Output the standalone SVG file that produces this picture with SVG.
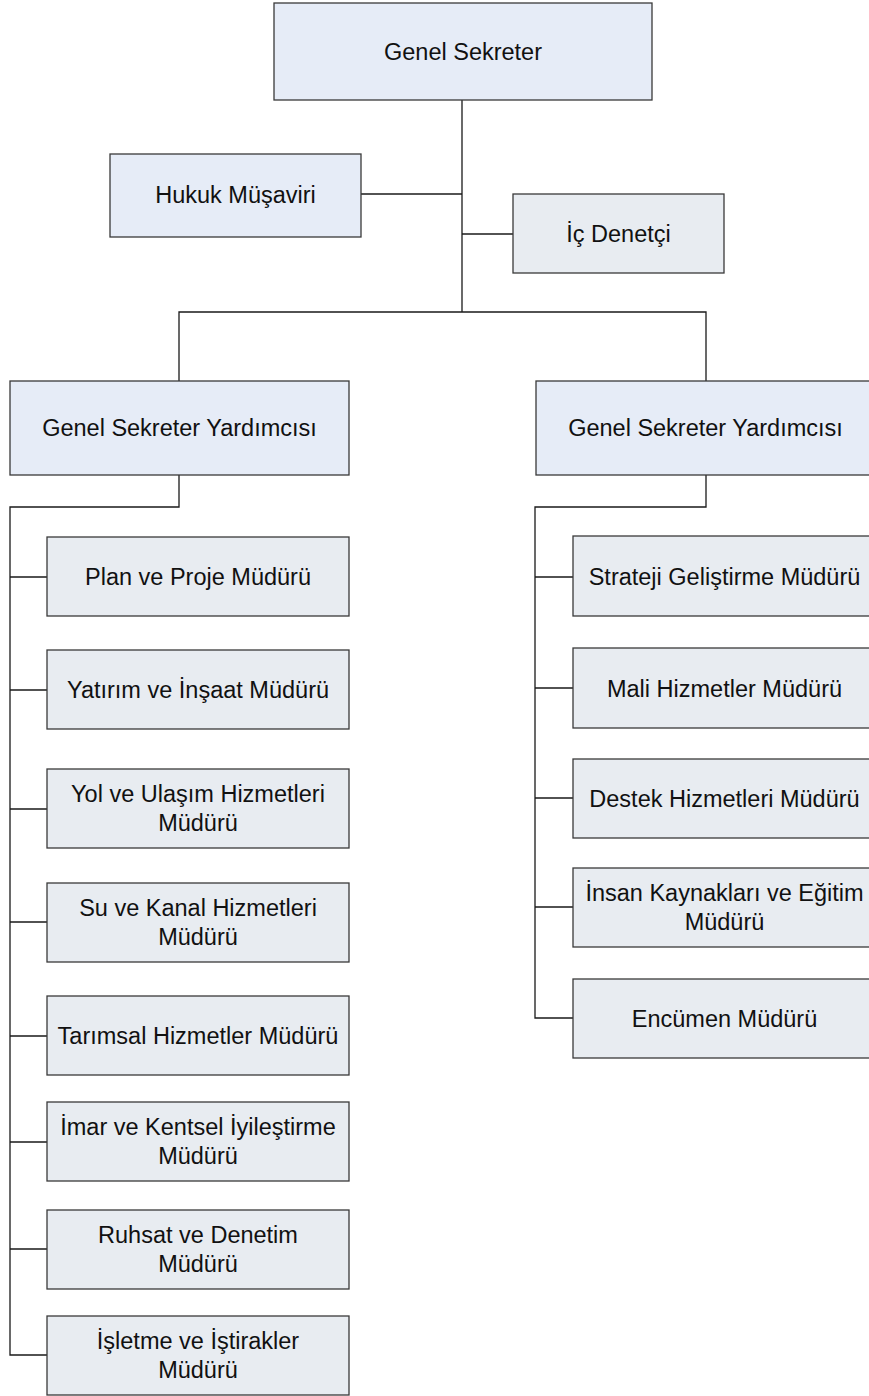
<svg xmlns="http://www.w3.org/2000/svg" width="869" height="1396" viewBox="0 0 869 1396">
<style>
  .bx { stroke: #3a3a3a; stroke-width: 1.3; }
  .b1 { fill: #E6ECF7; }
  .b2 { fill: #E8ECF1; }
  .t { font-family: "Liberation Sans", Arial, sans-serif; font-size: 23.5px; fill: #111; text-anchor: middle; }
  .c { fill: none; stroke: #1a1a1a; stroke-width: 1.3; }
</style>
<rect width="869" height="1396" fill="#ffffff"/>
<g id="connectors">
  <path class="c" d="M462 100 V312"/>
  <path class="c" d="M361 194 H462"/>
  <path class="c" d="M462 234 H513"/>
  <path class="c" d="M179 381 V312 H706 V381"/>
  <path class="c" d="M179 475 V507 H10 V1355 H47"/>
  <path class="c" d="M10 577 H47 M10 690 H47 M10 809 H47 M10 922 H47 M10 1036 H47 M10 1142 H47 M10 1249 H47"/>
  <path class="c" d="M706 475 V507 H535 V1018 H573"/>
  <path class="c" d="M535 577 H573 M535 688 H573 M535 798 H573 M535 907 H573"/>
</g>
<g id="genel-sekreter">
  <rect class="bx b1" x="274" y="3" width="378" height="97"/>
  <text class="t" x="463" y="60">Genel Sekreter</text>
</g>
<g id="hukuk">
  <rect class="bx b1" x="110" y="154" width="251" height="83"/>
  <text class="t" x="235.5" y="203">Hukuk Müşaviri</text>
</g>
<g id="ic-denetci">
  <rect class="bx b2" x="513" y="194" width="211" height="79"/>
  <text class="t" x="618.5" y="242">İç Denetçi</text>
</g>
<g id="gsy-left">
  <rect class="bx b1" x="10" y="381" width="339" height="94"/>
  <text class="t" x="179.5" y="436">Genel Sekreter Yardımcısı</text>
</g>
<g id="gsy-right">
  <rect class="bx b1" x="536" y="381" width="339" height="94"/>
  <text class="t" x="705.5" y="436">Genel Sekreter Yardımcısı</text>
</g>
<g id="plan">
  <rect class="bx b2" x="47" y="537" width="302" height="79"/>
  <text class="t" x="198" y="585">Plan ve Proje Müdürü</text>
</g>
<g id="yatirim">
  <rect class="bx b2" x="47" y="650" width="302" height="79"/>
  <text class="t" x="198" y="698">Yatırım ve İnşaat Müdürü</text>
</g>
<g id="yol">
  <rect class="bx b2" x="47" y="769" width="302" height="79"/>
  <text class="t" x="198" y="802">Yol ve Ulaşım Hizmetleri</text>
  <text class="t" x="198" y="831">Müdürü</text>
</g>
<g id="su">
  <rect class="bx b2" x="47" y="883" width="302" height="79"/>
  <text class="t" x="198" y="916">Su ve Kanal Hizmetleri</text>
  <text class="t" x="198" y="945">Müdürü</text>
</g>
<g id="tarimsal">
  <rect class="bx b2" x="47" y="996" width="302" height="79"/>
  <text class="t" x="198" y="1044">Tarımsal Hizmetler Müdürü</text>
</g>
<g id="imar">
  <rect class="bx b2" x="47" y="1102" width="302" height="79"/>
  <text class="t" x="198" y="1135">İmar ve Kentsel İyileştirme</text>
  <text class="t" x="198" y="1164">Müdürü</text>
</g>
<g id="ruhsat">
  <rect class="bx b2" x="47" y="1210" width="302" height="79"/>
  <text class="t" x="198" y="1243">Ruhsat ve Denetim</text>
  <text class="t" x="198" y="1272">Müdürü</text>
</g>
<g id="isletme">
  <rect class="bx b2" x="47" y="1316" width="302" height="79"/>
  <text class="t" x="198" y="1349">İşletme ve İştirakler</text>
  <text class="t" x="198" y="1378">Müdürü</text>
</g>
<g id="strateji">
  <rect class="bx b2" x="573" y="536" width="303" height="80"/>
  <text class="t" x="724.5" y="585">Strateji Geliştirme Müdürü</text>
</g>
<g id="mali">
  <rect class="bx b2" x="573" y="648" width="303" height="80"/>
  <text class="t" x="724.5" y="697">Mali Hizmetler Müdürü</text>
</g>
<g id="destek">
  <rect class="bx b2" x="573" y="759" width="303" height="79"/>
  <text class="t" x="724.5" y="807">Destek Hizmetleri Müdürü</text>
</g>
<g id="insan">
  <rect class="bx b2" x="573" y="868" width="303" height="79"/>
  <text class="t" x="724.5" y="901">İnsan Kaynakları ve Eğitim</text>
  <text class="t" x="724.5" y="930">Müdürü</text>
</g>
<g id="encumen">
  <rect class="bx b2" x="573" y="979" width="303" height="79"/>
  <text class="t" x="724.5" y="1027">Encümen Müdürü</text>
</g>
</svg>
